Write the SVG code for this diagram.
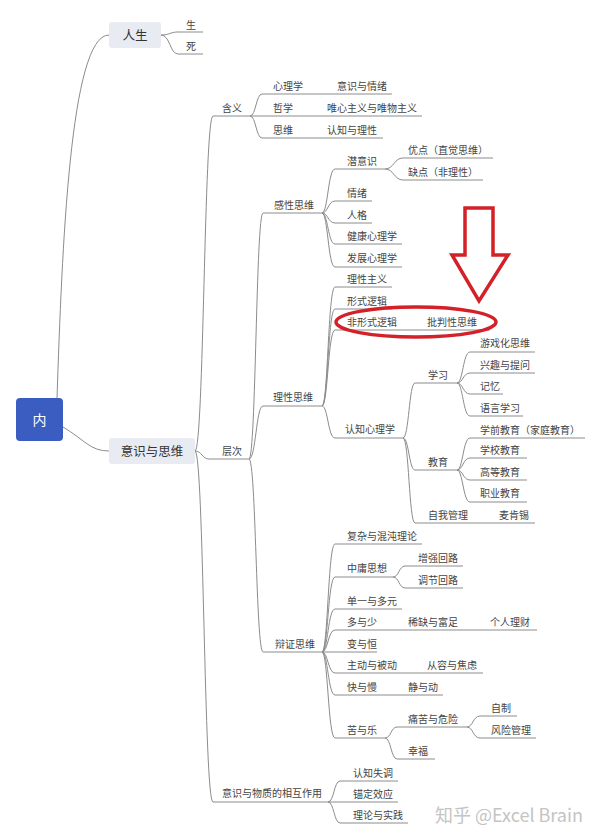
<svg xmlns="http://www.w3.org/2000/svg" width="600" height="839" viewBox="0 0 600 839">
<style>
.ln{fill:none;stroke:#8c8c8c;stroke-width:1}
.t{font-family:"Noto Sans CJK SC","Liberation Sans",sans-serif;font-size:10px;fill:#444}
.tm{font-family:"Noto Sans CJK SC","Liberation Sans",sans-serif;font-size:12.5px;fill:#333;text-anchor:middle}
.box{fill:#e9ebf2}
.red{fill:none;stroke:#d42027;stroke-width:3.5}
</style>
<rect width="600" height="839" fill="#fff"/>
<g id="connectors">
<path class="ln" d="M57 398 C62 250 70 35 109 35"/>
<path class="ln" d="M63 427 C85 440 90 451 109 451"/>
<path class="ln" d="M161 35 C170 35 170 32 178 32 H203"/>
<path class="ln" d="M161 35 C170 35 170 54 178 54 H203"/>
<path class="ln" d="M195 451 C204 451 204 116 213 116 H250"/>
<path class="ln" d="M195 451 C202 451 202 459 209 459 H249"/>
<path class="ln" d="M195 451 C204 451 204 802 213 802 H328"/>
<path class="ln" d="M250 116 C256 116 256 94 262 94 H392"/>
<path class="ln" d="M250 116 H422"/>
<path class="ln" d="M250 116 C256 116 256 138 262 138 H383"/>
<path class="ln" d="M249 459 C256 459 256 213 263 213 H322"/>
<path class="ln" d="M249 459 C256 459 256 406 263 406 H322"/>
<path class="ln" d="M249 459 C256 459 256 652 263 652 H322"/>
<path class="ln" d="M322 213 C328 213 328 169 335 169 H385"/>
<path class="ln" d="M322 213 C328 213 328 201 335 201 H372"/>
<path class="ln" d="M322 213 C328 213 328 223 335 223 H372"/>
<path class="ln" d="M322 213 C328 213 328 244 335 244 H402"/>
<path class="ln" d="M322 213 C328 213 328 267 335 267 H402"/>
<path class="ln" d="M385 169 C394 169 394 158 403 158 H493"/>
<path class="ln" d="M385 169 C394 169 394 180 403 180 H483"/>
<path class="ln" d="M322 406 C328 406 328 287 335 287 H392"/>
<path class="ln" d="M322 406 C328 406 328 309 335 309 H392"/>
<path class="ln" d="M322 406 C328 406 328 330 335 330 H490"/>
<path class="ln" d="M322 406 C328 406 328 438 335 438 H403"/>
<path class="ln" d="M403 438 C409 438 409 383 415 383 H457"/>
<path class="ln" d="M403 438 C409 438 409 470 415 470 H457"/>
<path class="ln" d="M403 438 C409 438 409 523 415 523 H535"/>
<path class="ln" d="M457 383 C463 383 463 352 470 352 H535"/>
<path class="ln" d="M457 383 C463 383 463 373 470 373 H535"/>
<path class="ln" d="M457 383 C463 383 463 394 470 394 H503"/>
<path class="ln" d="M457 383 C463 383 463 416 470 416 H523"/>
<path class="ln" d="M457 470 C463 470 463 438 470 438 H585"/>
<path class="ln" d="M457 470 C463 470 463 458 470 458 H527"/>
<path class="ln" d="M457 470 C463 470 463 480 470 480 H527"/>
<path class="ln" d="M457 470 C463 470 463 502 470 502 H527"/>
<path class="ln" d="M322 652 C328 652 328 544 335 544 H422"/>
<path class="ln" d="M322 652 C328 652 328 577 335 577 H393"/>
<path class="ln" d="M393 577 C399 577 399 566 405 566 H463"/>
<path class="ln" d="M393 577 C399 577 399 588 405 588 H463"/>
<path class="ln" d="M322 652 C328 652 328 609 335 609 H402"/>
<path class="ln" d="M322 652 C328 652 328 630 335 630 H537"/>
<path class="ln" d="M322 652 H377"/>
<path class="ln" d="M322 652 C328 652 328 673 335 673 H483"/>
<path class="ln" d="M322 652 C328 652 328 695 335 695 H443"/>
<path class="ln" d="M322 652 C328 652 328 738 335 738 H385"/>
<path class="ln" d="M385 738 C391 738 391 727 397 727 H467"/>
<path class="ln" d="M385 738 C391 738 391 759 397 759 H435"/>
<path class="ln" d="M467 727 C473 727 473 716 480 716 H517"/>
<path class="ln" d="M467 727 C473 727 473 738 480 738 H536"/>
<path class="ln" d="M328 802 C334 802 334 781 340 781 H398"/>
<path class="ln" d="M328 802 H398"/>
<path class="ln" d="M328 802 C334 802 334 823 340 823 H408"/>
</g>
<g id="root"><rect x="16" y="398" width="47" height="43" rx="4" fill="#3b5cc0"/><text x="39.5" y="425" font-family="Noto Sans CJK SC,sans-serif" font-size="14" fill="#fff" text-anchor="middle">内</text></g>
<g id="n-rensheng"><rect class="box" x="109" y="22" width="52" height="26" rx="3"/><text class="tm" x="135" y="39.5">人生</text></g>
<g id="n-sheng"><text class="t" x="186" y="29">生</text></g>
<g id="n-si"><text class="t" x="186" y="50">死</text></g>
<g id="n-yishi"><rect class="box" x="109" y="438" width="86" height="26" rx="3"/><text class="tm" x="152" y="455.5">意识与思维</text></g>
<g id="n-hanyi"><text class="t" x="222" y="112">含义</text></g>
<g id="n-xinlixue"><text class="t" x="273" y="90">心理学</text><text class="t" x="337" y="90">意识与情绪</text></g>
<g id="n-zhexue"><text class="t" x="273" y="112">哲学</text><text class="t" x="327" y="112">唯心主义与唯物主义</text></g>
<g id="n-siwei"><text class="t" x="273" y="134">思维</text><text class="t" x="327" y="134">认知与理性</text></g>
<g id="n-cengci"><text class="t" x="222" y="455">层次</text></g>
<g id="n-ganxing"><text class="t" x="274" y="209">感性思维</text></g>
<g id="n-qianyishi"><text class="t" x="347" y="165">潜意识</text></g>
<g id="n-youdian"><text class="t" x="408" y="154">优点（直觉思维）</text></g>
<g id="n-quedian"><text class="t" x="408" y="176">缺点（非理性）</text></g>
<g id="n-qingxu"><text class="t" x="347" y="197">情绪</text></g>
<g id="n-renge"><text class="t" x="347" y="219">人格</text></g>
<g id="n-jiankang"><text class="t" x="347" y="240">健康心理学</text></g>
<g id="n-fazhan"><text class="t" x="347" y="262">发展心理学</text></g>
<g id="n-lixing"><text class="t" x="273" y="401">理性思维</text></g>
<g id="n-lixingzhuyi"><text class="t" x="347" y="283">理性主义</text></g>
<g id="n-xingshi"><text class="t" x="347" y="305">形式逻辑</text></g>
<g id="n-feixingshi"><text class="t" x="347" y="326">非形式逻辑</text><text class="t" x="427" y="326">批判性思维</text></g>
<g id="n-renzhi"><text class="t" x="345" y="433">认知心理学</text></g>
<g id="n-xuexi"><text class="t" x="428" y="379">学习</text></g>
<g id="n-youxi"><text class="t" x="480" y="347">游戏化思维</text></g>
<g id="n-xingqu"><text class="t" x="480" y="369">兴趣与提问</text></g>
<g id="n-jiyi"><text class="t" x="480" y="390">记忆</text></g>
<g id="n-yuyan"><text class="t" x="480" y="412">语言学习</text></g>
<g id="n-jiaoyu"><text class="t" x="428" y="466">教育</text></g>
<g id="n-xueqian"><text class="t" x="480" y="434">学前教育（家庭教育）</text></g>
<g id="n-xuexiao"><text class="t" x="480" y="454">学校教育</text></g>
<g id="n-gaodeng"><text class="t" x="480" y="476">高等教育</text></g>
<g id="n-zhiye"><text class="t" x="480" y="497">职业教育</text></g>
<g id="n-ziwo"><text class="t" x="428" y="519">自我管理</text><text class="t" x="499" y="519">麦肯锡</text></g>
<g id="n-bianzheng"><text class="t" x="275" y="648">辩证思维</text></g>
<g id="n-fuza"><text class="t" x="347" y="540">复杂与混沌理论</text></g>
<g id="n-zhongyong"><text class="t" x="347" y="572">中庸思想</text></g>
<g id="n-zengqiang"><text class="t" x="418" y="562">增强回路</text></g>
<g id="n-tiaojie"><text class="t" x="418" y="584">调节回路</text></g>
<g id="n-danyi"><text class="t" x="347" y="605">单一与多元</text></g>
<g id="n-duoyushao"><text class="t" x="347" y="626">多与少</text><text class="t" x="408" y="626">稀缺与富足</text><text class="t" x="490" y="626">个人理财</text></g>
<g id="n-bianyuheng"><text class="t" x="347" y="648">变与恒</text></g>
<g id="n-zhudong"><text class="t" x="347" y="669">主动与被动</text><text class="t" x="427" y="669">从容与焦虑</text></g>
<g id="n-kuaiyuman"><text class="t" x="347" y="691">快与慢</text><text class="t" x="408" y="691">静与动</text></g>
<g id="n-kuyule"><text class="t" x="347" y="734">苦与乐</text></g>
<g id="n-tongku"><text class="t" x="408" y="723">痛苦与危险</text></g>
<g id="n-zizhi"><text class="t" x="491" y="712">自制</text></g>
<g id="n-fengxian"><text class="t" x="491" y="734">风险管理</text></g>
<g id="n-xingfu"><text class="t" x="408" y="755">幸福</text></g>
<g id="n-xianghu"><text class="t" x="222" y="797">意识与物质的相互作用</text></g>
<g id="n-shitiao"><text class="t" x="353" y="777">认知失调</text></g>
<g id="n-maoding"><text class="t" x="353" y="798">锚定效应</text></g>
<g id="n-lilun"><text class="t" x="353" y="819">理论与实践</text></g>
<g id="annotations">
<polygon class="red" fill="#fff" points="465,208 493,208 493,255 508,255 479,301 452,255 465,255" style="fill:#fff"/>
<ellipse class="red" cx="416" cy="322" rx="80" ry="15"/>
</g>
<text x="435" y="822" font-family="Noto Sans CJK SC,Liberation Sans,sans-serif" font-size="18" fill="#c4c4c4">知乎 @Excel Brain</text>
</svg>
